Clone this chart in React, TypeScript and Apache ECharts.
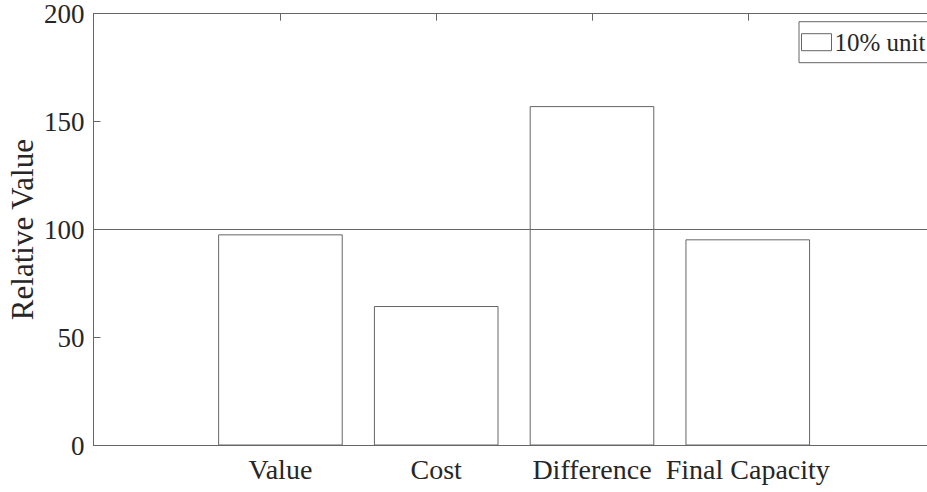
import React, { useEffect, useRef } from "react";
import * as echarts from "echarts";

const categories = ["Value", "Cost", "Difference", "Final Capacity"];
const values = [97.8, 64.6, 157.2, 95.5];
const yTicks = [0, 50, 100, 150, 200];
const legendName = "10% unit";
const referenceValue = 100;

const FONT = "'Liberation Serif', 'Times New Roman', serif";
const TEXT = "#262626";
const LINE = "#666";

export default function App() {
  const ref = useRef<HTMLDivElement>(null);
  useEffect(() => {
    if (!ref.current) return;
    const chart = echarts.init(ref.current, undefined, { renderer: "svg" });
    const positions = categories.map((_, i) => i + 1);
    const data = values.map((v, i) => [positions[i], v]);
    chart.setOption({
      animation: false,
      backgroundColor: "#fff",
      grid: {
        left: 93.5,
        top: 13.7,
        bottom: 46.5,
        right: 25.3,
        containLabel: false,
        outerBoundsMode: "none",
      },
      legend: {
        data: [legendName],
        left: 799,
        top: 21.7,
        padding: [8, 14, 8, 2],
        itemWidth: 30,
        itemHeight: 17,
        itemGap: 0,
        borderColor: LINE,
        borderWidth: 1,
        icon: "rect",
        itemStyle: { color: "#fff", borderColor: LINE, borderWidth: 1 },
        textStyle: { fontFamily: FONT, fontSize: 25, color: TEXT, padding: [0, 0, 0, -2] },
      },
      xAxis: [
        {
          type: "value",
          min: -0.2,
          max: 5.2,
          position: "bottom",
          splitLine: { show: false },
          axisLine: { show: true, onZero: false, lineStyle: { color: LINE, width: 1 } },
          axisTick: { show: true, inside: true, length: 7, customValues: positions, lineStyle: { color: LINE } },
          axisLabel: {
            customValues: positions,
            formatter: (v: number) => categories[Math.round(v) - 1] ?? "",
            fontFamily: FONT,
            fontSize: 28,
            color: TEXT,
            margin: 10,
          },
        },
        {
          type: "value",
          min: -0.2,
          max: 5.2,
          position: "top",
          splitLine: { show: false },
          axisLine: { show: true, onZero: false, lineStyle: { color: LINE, width: 1 } },
          axisTick: { show: true, inside: true, length: 7, customValues: positions, lineStyle: { color: LINE } },
          axisLabel: { show: false },
        },
      ],
      yAxis: [
        {
          type: "value",
          min: 0,
          max: 200,
          interval: 50,
          position: "left",
          name: "Relative Value",
          nameLocation: "middle",
          nameGap: 56,
          nameMoveOverlap: false,
          nameTextStyle: { fontFamily: FONT, fontSize: 31, color: TEXT },
          splitLine: { show: false },
          axisLine: { show: true, onZero: false, lineStyle: { color: LINE, width: 1 } },
          axisTick: { show: true, inside: true, length: 7, lineStyle: { color: LINE } },
          axisLabel: {
            customValues: yTicks,
            fontFamily: FONT,
            fontSize: 27,
            color: TEXT,
            margin: 9,
          },
        },
        {
          type: "value",
          min: 0,
          max: 200,
          interval: 50,
          position: "right",
          splitLine: { show: false },
          axisLine: { show: true, onZero: false, lineStyle: { color: LINE, width: 1 } },
          axisTick: { show: true, inside: true, length: 7, lineStyle: { color: LINE } },
          axisLabel: { show: false },
        },
      ],
      series: [
        {
          name: legendName,
          type: "bar",
          xAxisIndex: 0,
          yAxisIndex: 0,
          data,
          barWidth: 124.6,
          itemStyle: { color: "#fff", borderColor: LINE, borderWidth: 1 },
          markLine: {
            silent: true,
            symbol: "none",
            label: { show: false },
            lineStyle: { color: LINE, width: 1, type: "solid" },
            data: [{ yAxis: referenceValue }],
          },
        },
      ],
    });
    return () => chart.dispose();
  }, []);
  return (
    <div
      style={{
        position: "fixed",
        left: 0,
        top: 0,
        width: 927,
        height: 492,
        overflow: "hidden",
        background: "#fff",
      }}
    >
      <div ref={ref} style={{ width: 960, height: 492 }} />
    </div>
  );
}
